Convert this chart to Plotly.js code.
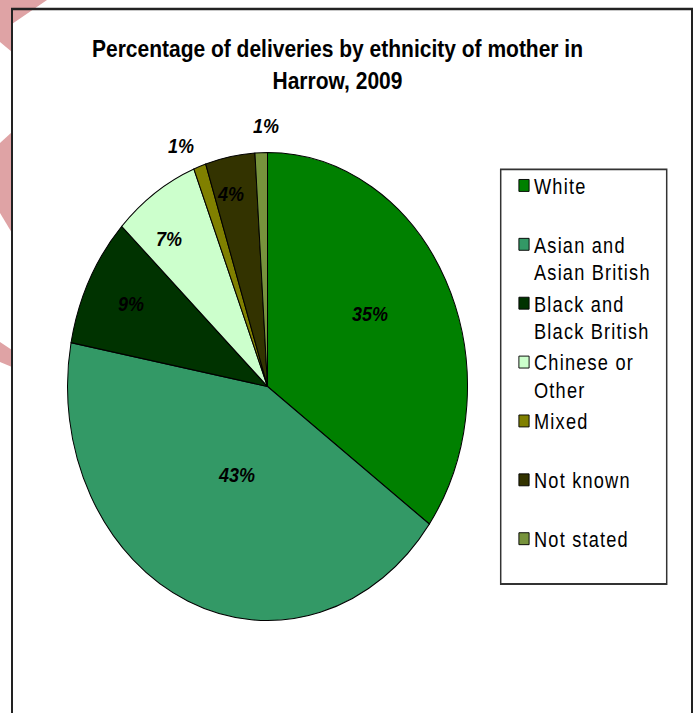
<!DOCTYPE html>
<html>
<head>
<meta charset="utf-8">
<script src="https://cdn.plot.ly/plotly-3.0.1.min.js"></script>
<style>
  html, body { margin: 0; padding: 0; background: #ffffff; overflow: hidden; width: 694px; height: 713px; }
  #wrap { position: absolute; left: 0; top: 0; width: 694px; height: 610px; transform: scale(1, 1.17); transform-origin: 0 0; }
  #chart { width: 694px; height: 610px; }
  .legendtext { letter-spacing: 1.2px; }
  .legend .legendsymbols { transform: translate(13px, 0px) scale(0.85); }
</style>
</head>
<body>
<div id="wrap"><div id="chart"></div></div>
<script>
// ---- data ----
const categories = ['White', 'Asian and<br>Asian British', 'Black and<br>Black British', 'Chinese or<br>Other', 'Mixed', 'Not known', 'Not stated'];
const values = [35, 43, 9, 7, 1, 4, 1];
const sliceColors = ['#008000', '#339966', '#003300', '#CCFFCC', '#808000', '#333300', '#77933C'];
const chartTitle = 'Percentage of deliveries by ethnicity of mother in<br>Harrow, 2009';

// ---- geometry helpers (reference pixels -> paper) ----
const S = 1.17, W = 694, H = 610;
const px = x => x / W;
const py = y => 1 - (y / S) / H;

// label placement relative to each slice's mid-angle (layout only, "best fit" style)
const labelRadius = [0.60, 0.41, 0.77, 0.80, 1.115, 0.84, 1.11];
const labelNudgeDeg = [-4.5, -1.4, 0.2, -3.9, -3.0, -1.8, 1.4];

// legend entries all take two lines, as in the reference
const legendLabels = categories.map(c => c.includes('<br>') ? c : c + '<br>\u00a0');

const domX = [px(67.5), px(467.5)];
const domY = [py(621), py(152)];

const trace = {
  type: 'pie',
  labels: legendLabels,
  values: values,
  sort: false,
  direction: 'clockwise',
  rotation: 0,
  marker: { colors: sliceColors, line: { color: '#000000', width: 1 } },
  textinfo: 'none',
  hoverinfo: 'label+percent',
  domain: { x: domX, y: domY }
};

// percentage labels placed around each slice's mid-angle (computed from the values)
const total = values.reduce((a, b) => a + b, 0);
const cxPx = (domX[0] + domX[1]) / 2 * W;
const cyPx = (1 - (domY[0] + domY[1]) / 2) * H;
const rPx = Math.min((domX[1] - domX[0]) * W, (domY[1] - domY[0]) * H) / 2;
let cum = 0;
const labelAnnotations = values.map((v, i) => {
  const mid = (cum + v / 2) / total * 2 * Math.PI + labelNudgeDeg[i] * Math.PI / 180;
  cum += v;
  const rr = labelRadius[i] * rPx;
  const xPx = cxPx + rr * Math.sin(mid);
  const yPx = cyPx - rr * Math.cos(mid);
  return {
    xref: 'paper', yref: 'paper', x: xPx / W, y: 1 - yPx / H,
    xanchor: 'center', yanchor: 'middle', showarrow: false,
    text: Math.round(v / total * 100) + '%',
    font: { family: 'Liberation Sans, Arial, sans-serif', size: 18, color: '#000000', weight: 'bold', style: 'italic' }
  };
});

const pinkPath = pts => 'M' + pts.map(p => px(p[0]) + ',' + py(p[1])).join(' L') + ' Z';

const layout = {
  width: W, height: H,
  margin: { l: 0, r: 0, t: 0, b: 0 },
  paper_bgcolor: '#ffffff',
  font: { family: 'Liberation Sans, Arial, sans-serif', color: '#000000' },
  title: {
    text: chartTitle,
    font: { family: 'Liberation Sans, Arial, sans-serif', size: 21, weight: 'bold', color: '#000000' },
    x: px(337.5), xanchor: 'center', xref: 'paper',
    y: py(57), yanchor: 'top', yref: 'container'
  },
  showlegend: true,
  legend: {
    x: px(494), xanchor: 'left',
    y: py(164), yanchor: 'top',
    bgcolor: 'rgba(0,0,0,0)', borderwidth: 0,
    font: { family: 'Liberation Sans, Arial, sans-serif', size: 18.2, color: '#000000' },
    valign: 'top', itemwidth: 30, traceorder: 'normal'
  },
  annotations: labelAnnotations,
  shapes: [
    { type: 'path', xref: 'paper', yref: 'paper', path: pinkPath([[0,0],[47,0],[12,24],[12,52],[0,42]]), fillcolor: '#DFA3A5', line: { width: 0 } },
    { type: 'path', xref: 'paper', yref: 'paper', path: pinkPath([[0,143],[12,132],[12,233],[0,213]]), fillcolor: '#DFA3A5', line: { width: 0 } },
    { type: 'path', xref: 'paper', yref: 'paper', path: pinkPath([[0,342],[12,350],[12,367],[0,362]]), fillcolor: '#DFA3A5', line: { width: 0 } },
    { type: 'rect', xref: 'paper', yref: 'paper', x0: px(12), x1: px(692), y0: py(9), y1: py(740), line: { color: '#222222', width: 2 }, fillcolor: 'rgba(0,0,0,0)' },
    { type: 'rect', xref: 'paper', yref: 'paper', x0: px(500.7), x1: px(666.7), y0: py(169.3), y1: py(584), line: { color: '#333333', width: 1.5 }, fillcolor: 'rgba(0,0,0,0)' }
  ]
};

Plotly.newPlot('chart', [trace], layout, { displayModeBar: false, responsive: false });
</script>
</body>
</html>
